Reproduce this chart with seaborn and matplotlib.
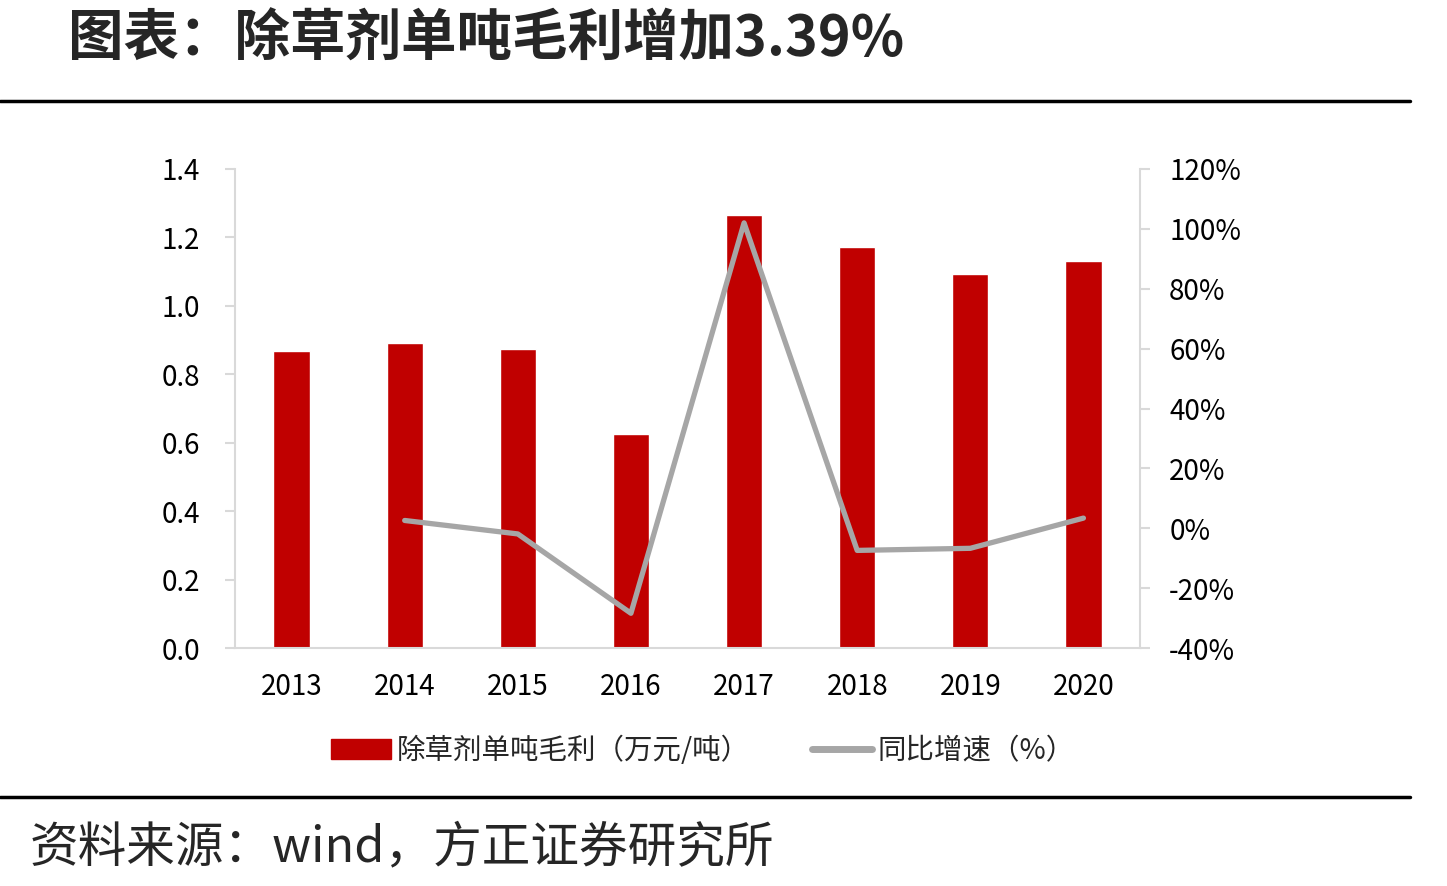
import numpy as np
import pandas as pd
import matplotlib
matplotlib.use("Agg")
import matplotlib.pyplot as plt
from matplotlib.patches import Patch
from matplotlib.lines import Line2D
import seaborn as sns

# 数据
years = ["2013", "2014", "2015", "2016", "2017", "2018", "2019", "2020"]
margin = [0.868, 0.891, 0.874, 0.626, 1.266, 1.172, 1.093, 1.131]   # 万元/吨
yoy_years = ["2014", "2015", "2016", "2017", "2018", "2019", "2020"]
yoy = [2.6, -1.9, -28.4, 102.0, -7.4, -6.7, 3.39]                   # %

left_ticks = [0.0, 0.2, 0.4, 0.6, 0.8, 1.0, 1.2, 1.4]
right_ticks = [-40, -20, 0, 20, 40, 60, 80, 100, 120]

RED = "#C00000"
GRAY = "#A6A6A6"
SPINE = "#D9D9D9"

sns.set_style("white")
plt.rcParams["font.family"] = ["Noto Sans CJK SC", "DejaVu Sans"]

fig = plt.figure(figsize=(14.47, 8.86), dpi=100)
ax = fig.add_axes([235 / 1447, 1 - 648 / 886, 905 / 1447, 479 / 886])

df_bar = pd.DataFrame({"year": years, "margin": margin})
sns.barplot(data=df_bar, x="year", y="margin", order=years, color=RED,
            saturation=1, width=0.32, ax=ax)

ax2 = ax.twinx()
df_line = pd.DataFrame({"year": yoy_years, "yoy": yoy})
sns.pointplot(data=df_line, x="year", y="yoy", order=years, color=GRAY,
              markers="", errorbar=None, linewidth=3.8, ax=ax2)

ax.set_ylim(0, 1.4)
ax.set_yticks(left_ticks)
ax.set_yticklabels([f"{v:.1f}" for v in left_ticks])
ax2.set_ylim(-40, 120)
ax2.set_yticks(right_ticks)
ax2.set_yticklabels([f"{v}%" for v in right_ticks])
ax.set_xlim(-0.5, 7.5)

for a in (ax, ax2):
    a.set_xlabel("")
    a.set_ylabel("")
    for s in a.spines.values():
        s.set_color(SPINE)
        s.set_linewidth(1.5)
    a.spines["top"].set_visible(False)

ax.spines["right"].set_visible(False)
ax2.spines["left"].set_visible(False)
ax2.spines["bottom"].set_visible(False)

ax.tick_params(axis="y", which="both", left=True, length=7, width=1.5,
               color=SPINE, labelsize=20, pad=18, labelcolor="black")
ax.tick_params(axis="x", bottom=False, labelsize=20, pad=14, labelcolor="black")
ax2.tick_params(axis="y", right=True, length=7, width=1.5, color=SPINE,
                labelsize=20, pad=14, labelcolor="black")

# 图例
handles = [Patch(facecolor=RED, edgecolor=RED),
           Line2D([0], [0], color=GRAY, lw=5)]
labels = ["除草剂单吨毛利（万元/吨）", "同比增速（%）"]
fig.legend(handles, labels, loc="center", bbox_to_anchor=(0.486, 1 - 751 / 886),
           ncol=2, frameon=False, fontsize=20.5, handlelength=2.1,
           handletextpad=0.2, columnspacing=2.2)

# 标题与来源
fig.text(68 / 1447, 1 - 40 / 886, "图表：除草剂单吨毛利增加3.39%", fontsize=40,
         fontweight="bold", va="center", ha="left")
fig.add_artist(Line2D([0, 1410 / 1447], [1 - 101 / 886] * 2, color="black", lw=2.5))
fig.add_artist(Line2D([0, 1410 / 1447], [1 - 797 / 886] * 2, color="black", lw=2.5))
fig.text(30 / 1447, 1 - 848 / 886, "资料来源：wind，方正证券研究所", fontsize=35,
         va="center", ha="left", style="italic")

fig.savefig("out.png", dpi=100)
